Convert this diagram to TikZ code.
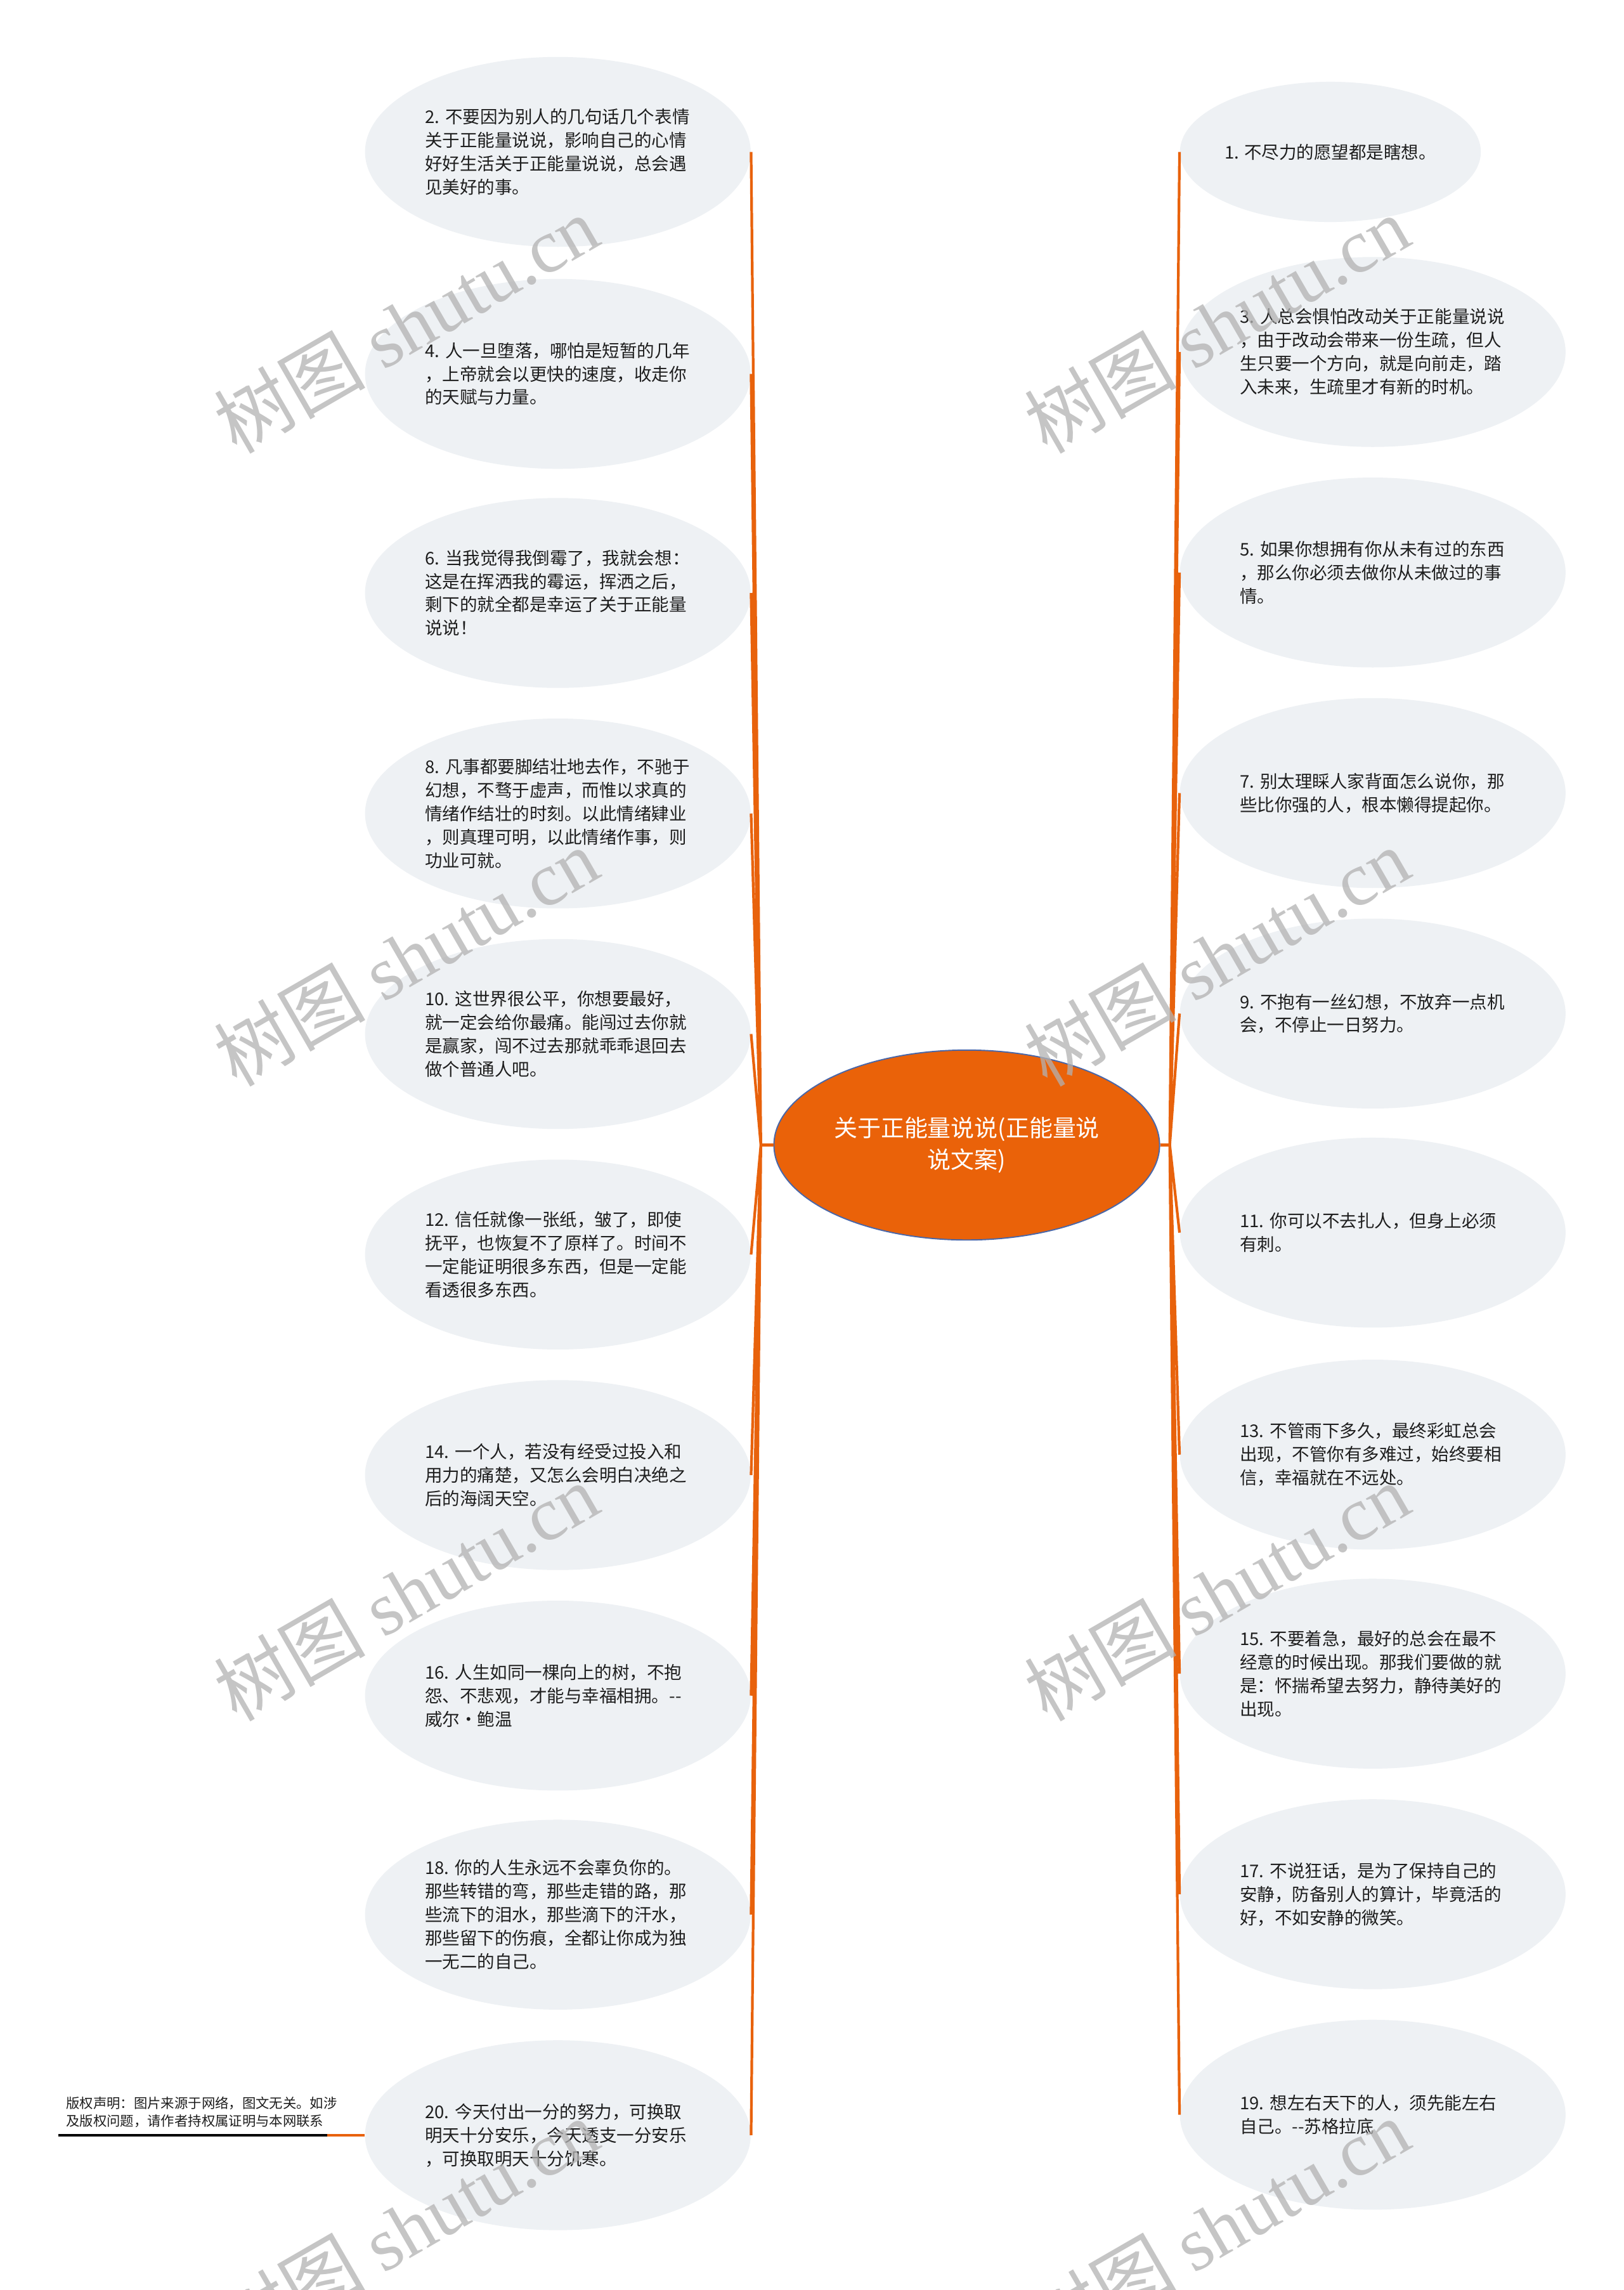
\documentclass[tikz,border=0pt]{standalone}
\usepackage{fontspec}
\setmainfont{Noto Sans CJK SC}
\newfontfamily\wmfont{Liberation Serif}
\usetikzlibrary{shapes.geometric}

\definecolor{leafgray}{HTML}{EEF1F4}
\definecolor{branchorange}{HTML}{E8620C}
\definecolor{rootorange}{HTML}{EA6209}
\definecolor{rootedge}{HTML}{4A67A8}
\definecolor{inkgray}{HTML}{1E1E1E}

\tikzset{
  leaf/.style={ellipse, fill=leafgray, inner sep=0pt, minimum width=6.6cm,
    minimum height=3.25cm, align=left, text width=4.55cm, text=inkgray,
    font=\fontsize{8.5}{11.4}\selectfont},
  smallleaf/.style={leaf, text width=, minimum width=5.15cm, minimum height=2.4cm},
  branch/.style={draw=branchorange, line width=1.3pt},
  watermark/.style={rotate=30, text=black!30, opacity=0.75,
    font=\fontsize{37}{40}\selectfont}
}

\begin{document}
\begin{tikzpicture}[x=0.025cm, y=-0.025cm]
    \fill[white] (0,0) rectangle (1112,1568);
    \useasboundingbox (0,0) rectangle (1112,1568);

    % centre topic
    \node[ellipse, fill=rootorange, draw=rootedge, line width=0.6pt, inner sep=0pt,
      minimum width=6.6cm, minimum height=3.25cm, align=center, text=white,
      font=\fontsize{11.4}{15.6}\selectfont] (root) at (662,784)
      {关于正能量说说(正能量说\\说文案)};
    \coordinate (lroot) at (521,784);
    \coordinate (rroot) at (801,784);

    % left column: even items
    \node[leaf] (l2) at (382,104) {2.~不要因为别人的几句话几个表情\\关于正能量说说，影响自己的心情\\好好生活关于正能量说说，总会遇\\见美好的事。};
    \node[leaf] (l4) at (382,256) {4.~人一旦堕落，哪怕是短暂的几年\\，上帝就会以更快的速度，收走你\\的天赋与力量。};
    \node[leaf] (l6) at (382,406) {6.~当我觉得我倒霉了，我就会想：\\这是在挥洒我的霉运，挥洒之后，\\剩下的就全都是幸运了关于正能量\\说说！};
    \node[leaf] (l8) at (382,557) {8.~凡事都要脚结壮地去作，不驰于\\幻想，不骛于虚声，而惟以求真的\\情绪作结壮的时刻。以此情绪肄业\\，则真理可明，以此情绪作事，则\\功业可就。};
    \node[leaf] (l10) at (382,708) {10.~这世界很公平，你想要最好，\\就一定会给你最痛。能闯过去你就\\是赢家，闯不过去那就乖乖退回去\\做个普通人吧。};
    \node[leaf] (l12) at (382,859) {12.~信任就像一张纸，皱了，即使\\抚平，也恢复不了原样了。时间不\\一定能证明很多东西，但是一定能\\看透很多东西。};
    \node[leaf] (l14) at (382,1010) {14.~一个人，若没有经受过投入和\\用力的痛楚，又怎么会明白决绝之\\后的海阔天空。};
    \node[leaf] (l16) at (382,1161) {16.~人生如同一棵向上的树，不抱\\怨、不悲观，才能与幸福相拥。-{}-\\威尔·鲍温};
    \node[leaf] (l18) at (382,1311) {18.~你的人生永远不会辜负你的。\\那些转错的弯，那些走错的路，那\\些流下的泪水，那些滴下的汗水，\\那些留下的伤痕，全都让你成为独\\一无二的自己。};
    \node[leaf] (l20) at (382,1462) {20.~今天付出一分的努力，可换取\\明天十分安乐，今天透支一分安乐\\，可换取明天十分饥寒。};

    % right column: odd items
    \node[smallleaf] (r1) at (911,104) {1. 不尽力的愿望都是瞎想。};
    \node[leaf] (r3) at (940,241) {3.~人总会惧怕改动关于正能量说说\\，由于改动会带来一份生疏，但人\\生只要一个方向，就是向前走，踏\\入未来，生疏里才有新的时机。};
    \node[leaf] (r5) at (940,392) {5.~如果你想拥有你从未有过的东西\\，那么你必须去做你从未做过的事\\情。};
    \node[leaf] (r7) at (940,543) {7.~别太理睬人家背面怎么说你，那\\些比你强的人，根本懒得提起你。};
    \node[leaf] (r9) at (940,694) {9.~不抱有一丝幻想，不放弃一点机\\会，不停止一日努力。};
    \node[leaf] (r11) at (940,844) {11.~你可以不去扎人，但身上必须\\有刺。};
    \node[leaf] (r13) at (940,996) {13.~不管雨下多久，最终彩虹总会\\出现，不管你有多难过，始终要相\\信，幸福就在不远处。};
    \node[leaf] (r15) at (940,1146) {15.~不要着急，最好的总会在最不\\经意的时候出现。那我们要做的就\\是：怀揣希望去努力，静待美好的\\出现。};
    \node[leaf] (r17) at (940,1297) {17.~不说狂话，是为了保持自己的\\安静，防备别人的算计，毕竟活的\\好，不如安静的微笑。};
    \node[leaf] (r19) at (940,1448) {19.~想左右天下的人，须先能左右\\自己。-{}-苏格拉底};

    % branches
    \draw[branch] (root.west) -- (lroot);
    \draw[branch] (root.east) -- (rroot);
    \draw[branch] (lroot) -- (l2.east) (lroot) -- (l4.east) (lroot) -- (l6.east)
      (lroot) -- (l8.east) (lroot) -- (l10.east) (lroot) -- (l12.east)
      (lroot) -- (l14.east) (lroot) -- (l16.east) (lroot) -- (l18.east)
      (lroot) -- (l20.east);
    \draw[branch] (rroot) -- (r1.west) (rroot) -- (r3.west) (rroot) -- (r5.west)
      (rroot) -- (r7.west) (rroot) -- (r9.west) (rroot) -- (r11.west)
      (rroot) -- (r13.west) (rroot) -- (r15.west) (rroot) -- (r17.west)
      (rroot) -- (r19.west);

    % copyright note
    \node[anchor=south west, inner sep=0pt, align=left, text=inkgray,
      font=\fontsize{6.6}{8.5}\selectfont] (note) at (45,1457)
      {版权声明：图片来源于网络，图文无关。如涉\\及版权问题，请作者持权属证明与本网联系};
    \coordinate (notemid) at (224,1462);
    \coordinate (noteend) at (40,1462);
    \draw[branch] (l20.west) -- (notemid);
    \draw[black, line width=1.3pt] (notemid) -- (noteend);

    % watermarks
    \node[watermark] at (278,222) {树图 {\wmfont shutu.cn}};
    \node[watermark] at (278,655) {树图 {\wmfont shutu.cn}};
    \node[watermark] at (278,1090) {树图 {\wmfont shutu.cn}};
    \node[watermark] at (278,1525) {树图 {\wmfont shutu.cn}};
    \node[watermark] at (833,222) {树图 {\wmfont shutu.cn}};
    \node[watermark] at (833,655) {树图 {\wmfont shutu.cn}};
    \node[watermark] at (833,1090) {树图 {\wmfont shutu.cn}};
    \node[watermark] at (833,1525) {树图 {\wmfont shutu.cn}};
\end{tikzpicture}
\end{document}
